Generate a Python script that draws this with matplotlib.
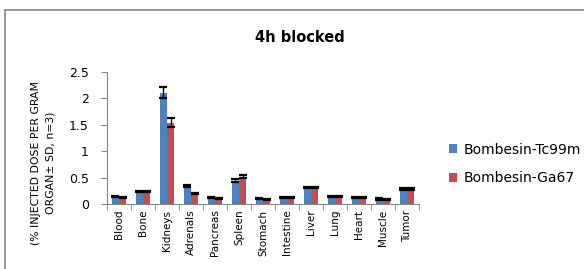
import matplotlib
matplotlib.use("Agg")
import matplotlib.pyplot as plt
import numpy as np
from matplotlib.lines import Line2D
from matplotlib.patches import Patch

organs = ["Blood", "Bone", "Kidneys", "Adrenals", "Pancreas", "Spleen", "Stomach",
          "Intestine", "Liver", "Lung", "Heart", "Muscle", "Tumor"]
tc99m = [0.145, 0.245, 2.11, 0.345, 0.13, 0.44, 0.10, 0.13, 0.31, 0.14, 0.13, 0.095, 0.28]
tc99m_err = [0.01, 0.01, 0.11, 0.015, 0.01, 0.03, 0.01, 0.01, 0.015, 0.01, 0.01, 0.01, 0.015]
ga67 = [0.13, 0.23, 1.54, 0.20, 0.11, 0.52, 0.08, 0.13, 0.31, 0.14, 0.13, 0.09, 0.28]
ga67_err = [0.01, 0.01, 0.08, 0.01, 0.01, 0.03, 0.01, 0.01, 0.015, 0.01, 0.01, 0.01, 0.015]
series_names = ["Bombesin-Tc99m", "Bombesin-Ga67"]

BLUE = "#4F81BD"
RED = "#C0504D"
AXIS_GREY = "#868686"

fig = plt.figure(figsize=(5.84, 2.69), dpi=100)
ax = fig.add_axes([107 / 584, 1 - 204 / 269, 312 / 584, 132 / 269])

x = np.arange(len(organs))
w = 0.31
err_kw = dict(ecolor="black", elinewidth=1.0, capsize=3, capthick=1.6)
ax.bar(x - w / 2, tc99m, w, color=BLUE, yerr=tc99m_err, error_kw=err_kw)
ax.bar(x + w / 2, ga67, w, color=RED, yerr=ga67_err, error_kw=err_kw)

ax.set_xlim(-0.5, len(organs) - 0.5)
ax.set_ylim(0, 2.5)
ax.set_yticks([0, 0.5, 1, 1.5, 2, 2.5])
ax.set_yticklabels(["0", "0.5", "1", "1.5", "2", "2.5"], fontsize=9)
ax.set_xticks(x)
ax.set_xticklabels(organs, rotation=90, fontsize=7.5)
ax.tick_params(axis="x", length=0, pad=4)
ax.set_xticks(np.arange(len(organs) + 1) - 0.5, minor=True)
ax.tick_params(axis="x", which="minor", length=4, color=AXIS_GREY)
ax.tick_params(axis="y", length=4, color=AXIS_GREY, pad=9)

for side in ("top", "right"):
    ax.spines[side].set_visible(False)
for side in ("left", "bottom"):
    ax.spines[side].set_color(AXIS_GREY)

fig.text(300 / 584, 1 - 38 / 269, "4h blocked", ha="center", va="center",
         fontsize=10.5, fontweight="bold")
fig.text(43 / 584, 1 - 163 / 269, "(% INJECTED DOSE PER GRAM\nORGAN\u00b1 SD, n=3)",
         rotation=90, ha="center", va="center", fontsize=7.8, linespacing=1.6)

handles = [Patch(facecolor=BLUE), Patch(facecolor=RED)]
fig.legend(handles, series_names, loc="upper left", bbox_to_anchor=(443 / 584, 1 - 137 / 269),
           frameon=False, fontsize=10, handlelength=0.6, handleheight=0.6,
           handletextpad=0.5, labelspacing=1.05, borderaxespad=0)

# chart frame (left and top edges visible in the crop)
fig.add_artist(Line2D([5 / 584, 5 / 584], [0, 1 - 10 / 269], color=AXIS_GREY, lw=1.2,
                      transform=fig.transFigure))
fig.add_artist(Line2D([5 / 584, 1], [1 - 10 / 269, 1 - 10 / 269], color=AXIS_GREY, lw=1.2,
                      transform=fig.transFigure))

fig.savefig("out.png", dpi=100)
